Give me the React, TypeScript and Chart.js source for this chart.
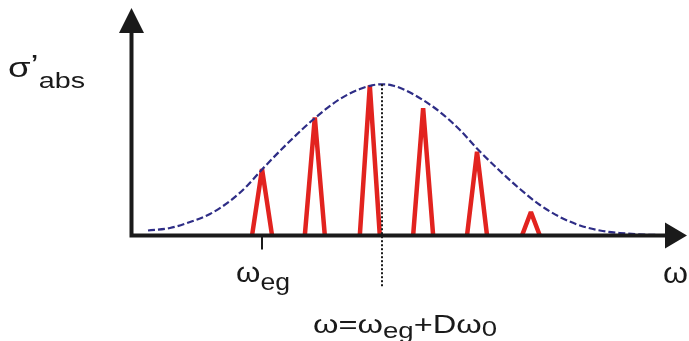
import React, { useEffect, useRef } from 'react';
import { Chart, registerables } from 'chart.js';

Chart.register(...registerables);

// ---- data (arbitrary units: x 0..100 along ω axis, y 0..100 along σ' axis) ----
const peakCenters = [23.5, 33.0, 42.9, 52.5, 62.2, 71.9];
const peakHeights = [29.2, 51.9, 66.0, 56.0, 36.8, 10.3];
const peakHalfWidths = [1.8, 1.8, 1.8, 1.8, 1.8, 1.6];

const curveX = [2.97, 6.93, 10.53, 14.13, 17.73, 20.79, 23.49, 28.53, 33.03, 37.53, 41.13, 43.29, 45.09, 46.89, 49.23, 52.47, 55.53, 59.13, 62.19, 66.33, 69.93, 73.53, 77.13, 80.73, 84.33, 87.93, 92.43, 95.67];
const curveY = [2.2, 3.3, 5.93, 9.45, 15.16, 21.76, 29.01, 41.54, 51.65, 60.0, 64.4, 66.02, 66.46, 66.02, 63.96, 59.56, 54.29, 46.37, 38.24, 28.35, 20.44, 13.41, 8.13, 4.4, 2.2, 1.1, 0.4, 0.13];

const tickX = 23.5;          // ω_eg
const markerX = 45.1;        // ω = ω_eg + Dω0
const markerTop = 66.5;

// ---- text ----
const yAxisLabel = [
  { t: 'σ', size: 28, dy: 0 },
  { t: '’', size: 28, dy: -3 },
  { t: 'abs', size: 22, dy: 11 },
];
const tickLabel = [
  { t: 'ω', size: 27, dy: 0 },
  { t: 'eg', size: 23, dy: 8 },
];
const centerLabel = [
  { t: 'ω', size: 26, dy: 0 },
  { t: '=', size: 26, dy: 0 },
  { t: 'ω', size: 26, dy: 0 },
  { t: 'eg', size: 22, dy: 5 },
  { t: '+', size: 26, dy: 0 },
  { t: 'D', size: 26, dy: 0 },
  { t: 'ω', size: 26, dy: 0 },
  { t: '0', size: 22, dy: 3 },
];
const xAxisLabel = [{ t: 'ω', size: 29, dy: 0 }];

const FONT = '"Liberation Sans", Arial, sans-serif';
const RED = '#e2231f';
const NAVY = '#2e2d86';
const INK = '#1a1a1a';

type Part = { t: string; size: number; dy: number };

function drawRich(ctx: CanvasRenderingContext2D, parts: Part[], left: number, baseline: number, width: number) {
  const widths = parts.map((p) => {
    ctx.font = `${p.size}px ${FONT}`;
    return ctx.measureText(p.t).width;
  });
  const total = widths.reduce((a, b) => a + b, 0);
  const s = width / total;
  ctx.save();
  ctx.translate(left, baseline);
  ctx.scale(s, 1);
  ctx.fillStyle = INK;
  ctx.textBaseline = 'alphabetic';
  ctx.textAlign = 'left';
  let x = 0;
  parts.forEach((p, i) => {
    ctx.font = `${p.size}px ${FONT}`;
    ctx.fillText(p.t, x, p.dy);
    x += widths[i];
  });
  ctx.restore();
}

const decor = {
  id: 'decor',
  afterDatasetsDraw(chart: any) {
    const ctx: CanvasRenderingContext2D = chart.ctx;
    const { left, right, top, bottom } = chart.chartArea;
    const xs = chart.scales.x;
    const ys = chart.scales.y;

    // dotted marker line
    const mx = Math.round(xs.getPixelForValue(markerX));
    ctx.save();
    ctx.strokeStyle = INK;
    ctx.lineWidth = 2;
    ctx.setLineDash([2, 2]);
    ctx.beginPath();
    ctx.moveTo(mx, ys.getPixelForValue(markerTop));
    ctx.lineTo(mx, bottom + 52);
    ctx.stroke();
    ctx.restore();

    // axes
    ctx.save();
    ctx.strokeStyle = INK;
    ctx.fillStyle = INK;
    ctx.lineWidth = 4;
    ctx.beginPath();
    ctx.moveTo(left, bottom + 2);
    ctx.lineTo(left, top + 20);
    ctx.moveTo(left - 2, bottom);
    ctx.lineTo(right - 18, bottom);
    ctx.stroke();
    // arrowheads
    ctx.beginPath();
    ctx.moveTo(left, top);
    ctx.lineTo(left + 12.5, top + 25);
    ctx.lineTo(left - 12.5, top + 25);
    ctx.closePath();
    ctx.fill();
    ctx.beginPath();
    ctx.moveTo(right, bottom);
    ctx.lineTo(right - 22, bottom - 13);
    ctx.lineTo(right - 22, bottom + 13);
    ctx.closePath();
    ctx.fill();
    // tick at ω_eg
    const tx = Math.round(xs.getPixelForValue(tickX));
    ctx.lineWidth = 2;
    ctx.beginPath();
    ctx.moveTo(tx, bottom);
    ctx.lineTo(tx, bottom + 14);
    ctx.stroke();
    ctx.restore();

    // labels
    drawRich(ctx, yAxisLabel, 8, 77, 77);
    drawRich(ctx, tickLabel, tx - 26, 282, 54);
    drawRich(ctx, centerLabel, mx - 69, 333, 184);
    drawRich(ctx, xAxisLabel, right - 24, 283, 25);
  },
};

export default function App() {
  const ref = useRef<HTMLCanvasElement>(null);
  useEffect(() => {
    const triData: { x: number; y: number | null }[] = [];
    peakCenters.forEach((c, i) => {
      triData.push({ x: c - peakHalfWidths[i], y: 0 });
      triData.push({ x: c, y: peakHeights[i] });
      triData.push({ x: c + peakHalfWidths[i], y: 0 });
      triData.push({ x: c + peakHalfWidths[i] + 0.01, y: null });
    });
    const curveData = curveX.map((x, i) => ({ x, y: curveY[i] }));
    const chart = new Chart(ref.current as HTMLCanvasElement, {
      type: 'line',
      data: {
        datasets: [
          {
            data: curveData as any,
            borderColor: NAVY,
            borderWidth: 2.2,
            borderDash: [7, 3],
            cubicInterpolationMode: 'monotone',
            pointRadius: 0,
            clip: false as any,
            order: 0,
          },
          {
            data: triData as any,
            borderColor: RED,
            borderWidth: 4.5,
            tension: 0,
            pointRadius: 0,
            spanGaps: false,
            clip: false as any,
            borderJoinStyle: 'bevel',
            order: 1,
          },
        ],
      },
      options: {
        animation: false,
        responsive: false,
        maintainAspectRatio: false,
        events: [],
        layout: { padding: { left: 131.5, right: 2, top: 8, bottom: 105.5 } },
        scales: {
          x: { type: 'linear', min: 0, max: 100, display: false },
          y: { type: 'linear', min: 0, max: 100, display: false },
        },
        plugins: { legend: { display: false }, tooltip: { enabled: false } },
      },
      plugins: [decor],
    });
    return () => chart.destroy();
  }, []);
  return (
    <div style={{ position: 'fixed', left: 0, top: 0, width: 689, height: 341, background: '#fff' }}>
      <canvas ref={ref} width={689} height={341} style={{ display: 'block', width: 689, height: 341 }} />
    </div>
  );
}
